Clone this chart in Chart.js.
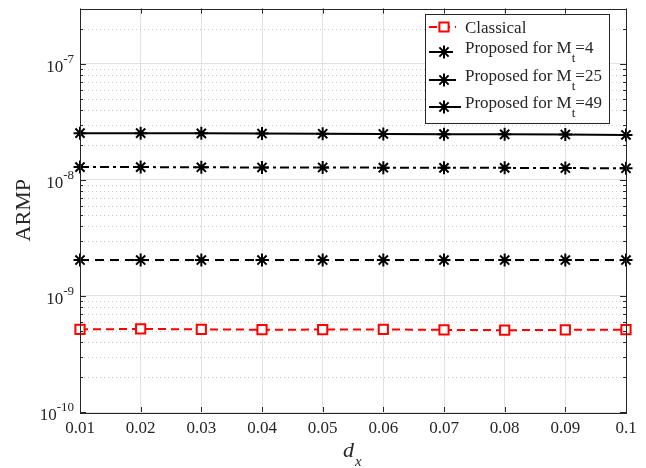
<!DOCTYPE html>
<html>
<head>
<meta charset="utf-8">
<script src="https://cdn.jsdelivr.net/npm/chart.js@4"></script>
<style>
html, body { margin: 0; padding: 0; background: #fff; }
#wrap { width: 646px; height: 468px; }
</style>
</head>
<body>
<div id="wrap"><canvas id="armp_chart"></canvas></div>
<script>
// values
const dx_labels = ["0.01", "0.02", "0.03", "0.04", "0.05", "0.06", "0.07", "0.08", "0.09", "0.1"];
const classical_data = [5.15e-10, 5.2e-10, 5.15e-10, 5.12e-10, 5.13e-10, 5.15e-10, 5.1e-10, 5.07e-10, 5.1e-10, 5.12e-10];
const proposed_mt4_data = [2.04e-9, 2.04e-9, 2.04e-9, 2.04e-9, 2.04e-9, 2.04e-9, 2.04e-9, 2.04e-9, 2.04e-9, 2.04e-9];
const proposed_mt25_data = [1.29e-8, 1.29e-8, 1.285e-8, 1.28e-8, 1.28e-8, 1.275e-8, 1.27e-8, 1.27e-8, 1.265e-8, 1.26e-8];
const proposed_mt49_data = [2.53e-8, 2.53e-8, 2.52e-8, 2.51e-8, 2.50e-8, 2.49e-8, 2.48e-8, 2.47e-8, 2.46e-8, 2.44e-8];
const series_names = ["Classical", "Proposed for M_t=4", "Proposed for M_t=25", "Proposed for M_t=49"];
const y_major_ticks = [1e-10, 1e-9, 1e-8, 1e-7];
const y_min = 1e-10;
const y_max = 3e-7;

const axis_color = "#262626";
const serif = "'Liberation Serif', 'DejaVu Serif', serif";

// draws text with "_x" parts as subscripts
function draw_sub_text(ctx, text, x, y, size)
{
    const parts = text.split(/_(.)/);
    for (let i = 0; i < parts.length; i++)
    {
        const sub = i % 2 === 1;
        ctx.font = (sub ? Math.round(size * 0.75) : size) + "px " + serif;
        ctx.fillText(parts[i], x, sub ? y + 9 : y);
        x += ctx.measureText(parts[i]).width;
    }
}

const frame_plugin =
{
    id: "frame",
    beforeDatasetsDraw(chart)
    {
        const { ctx, chartArea: a, scales: { y } } = chart;
        ctx.save();
        ctx.strokeStyle = "#c8c8c8";
        ctx.lineWidth = 1;
        ctx.setLineDash([1, 3]);
        for (let e = -10; e <= -7; e++)
        {
            for (let m = 2; m <= 9; m++)
            {
                const v = m * Math.pow(10, e);
                if (v > y_max * 1.001) break;
                const py = Math.round(y.getPixelForValue(v)) + 0.5;
                ctx.beginPath();
                ctx.moveTo(a.left, py);
                ctx.lineTo(a.right, py);
                ctx.stroke();
            }
        }
        ctx.restore();
    },
    afterDraw(chart)
    {
        const { ctx, chartArea: a, scales: { x, y } } = chart;
        ctx.save();
        ctx.strokeStyle = axis_color;
        ctx.fillStyle = axis_color;
        ctx.lineWidth = 1;

        // box
        ctx.strokeRect(Math.round(a.left) + 0.5, Math.round(a.top) + 0.5, Math.round(a.right - a.left), Math.round(a.bottom - a.top));

        // x tick marks, bottom and top, inward
        ctx.beginPath();
        for (let i = 0; i < dx_labels.length; i++)
        {
            const px = Math.round(x.getPixelForValue(i)) + 0.5;
            ctx.moveTo(px, a.bottom); ctx.lineTo(px, a.bottom - 5);
            ctx.moveTo(px, a.top); ctx.lineTo(px, a.top + 5);
        }
        // y tick marks, left and right, inward
        for (let e = -10; e <= -7; e++)
        {
            for (let m = 1; m <= 9; m++)
            {
                const v = m * Math.pow(10, e);
                if (v > y_max * 1.001) break;
                const len = m === 1 ? 6 : 3;
                const py = Math.round(y.getPixelForValue(v)) + 0.5;
                ctx.moveTo(a.left, py); ctx.lineTo(a.left + len, py);
                ctx.moveTo(a.right, py); ctx.lineTo(a.right - len, py);
            }
        }
        ctx.stroke();

        // y tick labels 10^n
        ctx.textAlign = "left";
        ctx.textBaseline = "alphabetic";
        for (const v of y_major_ticks)
        {
            const py = y.getPixelForValue(v);
            const exp = String(Math.round(Math.log10(v)));
            ctx.font = "13px " + serif;
            const exp_w = ctx.measureText(exp).width;
            ctx.font = "17px " + serif;
            const base_w = ctx.measureText("10").width;
            const right = a.left - 6;
            ctx.fillText("10", right - exp_w - base_w, py + 8);
            ctx.font = "13px " + serif;
            ctx.fillText(exp, right - exp_w, py - 1);
        }

        // y title
        ctx.save();
        ctx.translate(30, (a.top + a.bottom) / 2);
        ctx.rotate(-Math.PI / 2);
        ctx.textAlign = "center";
        ctx.font = "22px " + serif;
        ctx.fillText("ARMP", 0, 0);
        ctx.restore();

        // x title d_x
        ctx.textAlign = "left";
        ctx.font = "italic 22px " + serif;
        ctx.fillText("d", 343, 457);
        ctx.font = "italic 15px " + serif;
        ctx.fillText("x", 355, 466);

        // legend
        const lx = 425, ly = 14, lw = 184, lh = 109;
        ctx.fillStyle = "#ffffff";
        ctx.fillRect(lx, ly, lw, lh);
        ctx.strokeStyle = axis_color;
        ctx.strokeRect(lx + 0.5, ly + 0.5, lw, lh);
        const row_y = [27, 52, 80, 107];
        chart.data.datasets.forEach((ds, i) =>
        {
            const ry = row_y[i];
            ctx.strokeStyle = ds.borderColor;
            ctx.lineWidth = ds.borderWidth;
            ctx.setLineDash(ds.borderDash || []);
            ctx.beginPath();
            ctx.moveTo(429, ry);
            ctx.lineTo(ds.borderDash ? 456 : 461, ry);
            ctx.stroke();
            ctx.setLineDash([]);
            ctx.fillStyle = ds.pointBackgroundColor;
            ctx.lineWidth = ds.pointBorderWidth;
            Chart.helpers.drawPoint(ctx, { pointStyle: ds.pointStyle, radius: ds.pointRadius, borderWidth: ds.pointBorderWidth, rotation: 0 }, 444, ry);
            ctx.fillStyle = axis_color;
            const has_sub = ds.label.indexOf("_") >= 0;
            draw_sub_text(ctx, ds.label, 465, has_sub ? ry + 1 : ry + 6, 17);
        });
        ctx.restore();
    }
};

new Chart("armp_chart",
{
    type: "line",
    data:
    {
        labels: dx_labels,
        datasets:
        [
            {
                label: series_names[0],
                data: classical_data,
                borderColor: "#ff0000",
                borderWidth: 2,
                borderDash: [8, 5],
                pointStyle: "rect",
                pointRadius: 6.5,
                pointBorderWidth: 2,
                pointBorderColor: "#ff0000",
                pointBackgroundColor: "#ffffff",
                clip: false
            },
            {
                label: series_names[1],
                data: proposed_mt4_data,
                borderColor: "#000000",
                borderWidth: 2,
                borderDash: [9, 6],
                pointStyle: "star",
                pointRadius: 6.5,
                pointBorderWidth: 2,
                pointBorderColor: "#000000",
                pointBackgroundColor: "#000000",
                clip: false
            },
            {
                label: series_names[2],
                data: proposed_mt25_data,
                borderColor: "#000000",
                borderWidth: 2,
                borderDash: [9, 4, 3, 4],
                pointStyle: "star",
                pointRadius: 6.5,
                pointBorderWidth: 2,
                pointBorderColor: "#000000",
                pointBackgroundColor: "#000000",
                clip: false
            },
            {
                label: series_names[3],
                data: proposed_mt49_data,
                borderColor: "#000000",
                borderWidth: 2,
                pointStyle: "star",
                pointRadius: 6.5,
                pointBorderWidth: 2,
                pointBorderColor: "#000000",
                pointBackgroundColor: "#000000",
                clip: false
            }
        ]
    },
    options:
    {
        animation: false,
        responsive: true,
        maintainAspectRatio: false,
        devicePixelRatio: 1,
        layout: { padding: { top: 7, right: 20, left: 0, bottom: 0 } },
        elements: { line: { tension: 0 } },
        plugins:
        {
            legend: { display: false },
            tooltip: { enabled: false }
        },
        scales:
        {
            x:
            {
                grid: { color: "#e2e2e2", drawTicks: false },
                border: { display: false },
                ticks:
                {
                    color: axis_color,
                    padding: 6,
                    maxRotation: 0,
                    autoSkip: false,
                    font: { family: serif, size: 17 }
                },
                afterFit(scale) { scale.height = 56; }
            },
            y:
            {
                type: "logarithmic",
                min: y_min,
                max: y_max,
                grid: { color: "#e2e2e2", drawTicks: false },
                border: { display: false },
                ticks: { display: false },
                afterBuildTicks(scale) { scale.ticks = y_major_ticks.map(v => ({ value: v })); },
                afterFit(scale) { scale.width = 80; }
            }
        }
    },
    plugins: [frame_plugin]
});
</script>
</body>
</html>
